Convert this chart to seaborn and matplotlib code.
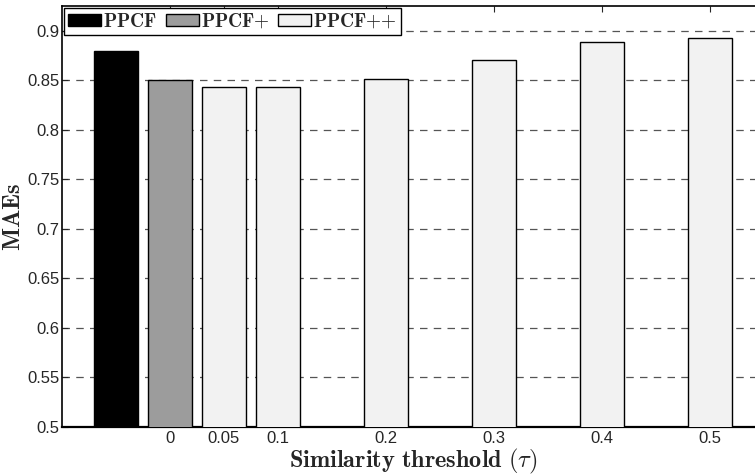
import pandas
import seaborn
import matplotlib
matplotlib.use("Agg")
import matplotlib.pyplot as pyplot

# slots on the x axis (empty ones leave a gap, like the original)
slots = ["PPCF", "0", "0.05", "0.1", "0.15", "0.2", "0.25", "0.3", "0.35", "0.4", "0.45", "0.5"]
thresholds = ["PPCF", "0", "0.05", "0.1", "0.2", "0.3", "0.4", "0.5"]
methods = ["PPCF", "PPCF+", "PPCF++", "PPCF++", "PPCF++", "PPCF++", "PPCF++", "PPCF++"]
maes = [0.880, 0.850, 0.843, 0.843, 0.851, 0.870, 0.889, 0.893]
tick_labels = ["0", "0.05", "0.1", "0.2", "0.3", "0.4", "0.5"]
yticks = [0.5, 0.55, 0.6, 0.65, 0.7, 0.75, 0.8, 0.85, 0.9]

seaborn.set_style("white")
pyplot.rcParams["font.family"] = ["Liberation Sans", "DejaVu Sans"]
pyplot.rcParams["mathtext.fontset"] = "cm"

data = pandas.DataFrame({"threshold": thresholds, "method": methods, "mae": maes})

fig = pyplot.figure(figsize=(7.55, 4.75), dpi=100)
ax = fig.add_axes([62 / 755, 48 / 475, 702 / 755, 421 / 475])

seaborn.barplot(data=data, x="threshold", y="mae", hue="method", order=slots,
                hue_order=["PPCF", "PPCF+", "PPCF++"],
                palette=["#000000", "#9c9c9c", "#f2f2f2"], dodge=False, width=0.81,
                edgecolor="black", linewidth=1.0, saturation=1, ax=ax, zorder=3)

ax.set_xlim(-1, 12)
ax.set_ylim(0.5, 0.925)
ax.set_yticks(yticks)
ax.set_yticklabels(["%g" % v for v in yticks], fontsize=12)
ax.set_xticks([slots.index(t) for t in tick_labels])
ax.set_xticklabels(tick_labels, fontsize=12)
ax.tick_params(axis="x", bottom=False, top=True, direction="in", length=4, pad=3)
ax.tick_params(axis="y", left=True, direction="in", length=4, pad=2)

ax.yaxis.grid(True, linestyle=(0, (6, 5)), color="#555555", linewidth=0.9)
ax.set_axisbelow(True)
for side in ["left", "top", "bottom"]:
    ax.spines[side].set_linewidth(1.2)
    ax.spines[side].set_color("black")
ax.spines["bottom"].set_linewidth(1.6)
ax.spines["right"].set_visible(False)

ax.set_xlabel(r"$\mathbf{Similarity\ threshold\ }(\tau)$", fontsize=17.5)
ax.xaxis.set_label_coords(0.5, -0.048)
ax.set_ylabel(r"$\mathbf{MAEs}$", fontsize=17.5)
ax.yaxis.set_label_coords(-0.052, 0.5)

handles, labels = ax.get_legend_handles_labels()
leg = ax.legend(handles, [r"$\mathbf{PPCF}$", r"$\mathbf{PPCF{+}}$", r"$\mathbf{PPCF{+}{+}}$"],
                ncol=3, loc="upper left", fontsize=14, frameon=True, fancybox=False,
                edgecolor="black", borderpad=0.2, borderaxespad=0.1, handlelength=1.7,
                handleheight=0.62, handletextpad=0.1, columnspacing=0.45)
leg.get_frame().set_linewidth(1.0)
leg.get_frame().set_alpha(1)

fig.savefig("out.png", dpi=100)
